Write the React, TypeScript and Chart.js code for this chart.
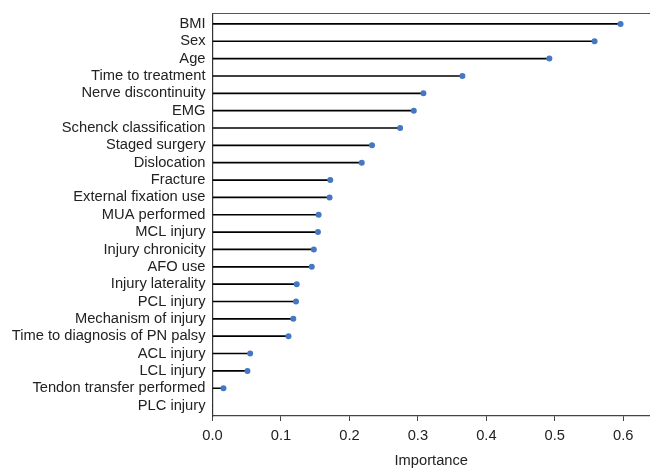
import React, { useEffect, useRef } from "react";
import { Chart, registerables } from "chart.js";

Chart.register(...registerables);

const features = [
  "BMI",
  "Sex",
  "Age",
  "Time to treatment",
  "Nerve discontinuity",
  "EMG",
  "Schenck classification",
  "Staged surgery",
  "Dislocation",
  "Fracture",
  "External fixation use",
  "MUA performed",
  "MCL injury",
  "Injury chronicity",
  "AFO use",
  "Injury laterality",
  "PCL injury",
  "Mechanism of injury",
  "Time to diagnosis of PN palsy",
  "ACL injury",
  "LCL injury",
  "Tendon transfer performed",
  "PLC injury",
];

const importance = [
  0.596, 0.558, 0.492, 0.365, 0.308, 0.294, 0.274, 0.233, 0.218, 0.172, 0.171,
  0.155, 0.154, 0.148, 0.145, 0.123, 0.122, 0.118, 0.111, 0.055, 0.051, 0.016,
  0.0,
];

const xTicks = [0, 0.1, 0.2, 0.3, 0.4, 0.5, 0.6];
const xTitle = "Importance";

const FONT = "'Liberation Sans', Arial, sans-serif";

export default function App() {
  const canvasRef = useRef<HTMLCanvasElement | null>(null);

  useEffect(() => {
    document.body.style.margin = "0";
    const canvas = canvasRef.current;
    if (!canvas) return;

    const points = importance.map((v, i) => ({ x: v, y: i }));

    const topSpine = {
      id: "topSpine",
      afterDraw(chart: any) {
        const { ctx, chartArea } = chart;
        ctx.save();
        ctx.strokeStyle = "#555";
        ctx.lineWidth = 1.2;
        ctx.beginPath();
        ctx.moveTo(chartArea.left, chartArea.top);
        ctx.lineTo(chartArea.right, chartArea.top);
        ctx.stroke();
        ctx.restore();
      },
    };

    const chart = new Chart(canvas, {
      type: "bar",
      data: {
        datasets: [
          {
            type: "bar",
            data: points,
            backgroundColor: "#000",
            borderWidth: 0,
            barThickness: 1,
            indexAxis: "y",
            order: 2,
          } as any,
          {
            type: "scatter",
            data: points,
            backgroundColor: "#4578c2",
            borderColor: "#4578c2",
            pointRadius: (ctx: any) => (ctx.raw && ctx.raw.x > 0 ? 3 : 0),
            borderWidth: 0,
            order: 1,
          } as any,
        ],
      },
      options: {
        indexAxis: "y",
        animation: false,
        responsive: false,
        maintainAspectRatio: false,
        layout: {
          autoPadding: false,
          padding: { top: 13.5, right: 0, left: 0, bottom: 0 },
        },
        plugins: {
          legend: { display: false },
          tooltip: { enabled: false },
        },
        scales: {
          x: {
            type: "linear",
            position: "bottom",
            min: 0,
            max: 0.639,
            offset: false,
            afterBuildTicks: (scale: any) => {
              scale.ticks = xTicks.map((v) => ({ value: v }));
            },
            afterFit: (scale: any) => {
              scale.height = 52;
              scale.paddingLeft = 0;
              scale.paddingRight = 0;
            },
            grid: {
              display: true,
              drawOnChartArea: false,
              drawTicks: true,
              tickLength: 5,
              color: "#444",
            },
            border: { display: true, color: "#444", width: 1.2 },
            ticks: {
              padding: 6,
              color: "#222",
              font: { family: FONT, size: 14.7 },
              callback: (v: any) => Number(v).toFixed(1),
              maxRotation: 0,
            },
            title: {
              display: true,
              text: xTitle,
              color: "#222",
              font: { family: FONT, size: 14.7, lineHeight: 1 },
              padding: { top: 0, bottom: 0 },
            },
          },
          y: {
            type: "linear",
            reverse: true,
            min: -0.6,
            max: 22.6,
            offset: false,
            afterBuildTicks: (scale: any) => {
              scale.ticks = features.map((_, i) => ({ value: i }));
            },
            afterFit: (scale: any) => {
              scale.width = 212.5;
              scale.paddingTop = 0;
              scale.paddingBottom = 0;
            },
            grid: {
              display: true,
              drawOnChartArea: false,
              drawTicks: false,
              offset: false,
            },
            border: { display: true, color: "#333", width: 1.2 },
            ticks: {
              padding: 7,
              color: "#222",
              autoSkip: false,
              font: { family: FONT, size: 14.7 },
              callback: (v: any) => features[Math.round(Number(v))] ?? "",
            },
          },
        },
      },
      plugins: [topSpine],
    });

    return () => chart.destroy();
  }, []);

  return (
    <div style={{ width: 650, height: 468 }}>
      <canvas ref={canvasRef} width={650} height={468} style={{ display: "block" }} />
    </div>
  );
}
